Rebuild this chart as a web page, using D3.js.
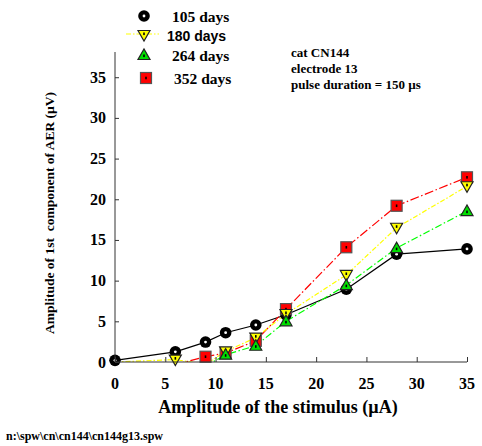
<!DOCTYPE html>
<html>
<head>
<meta charset="utf-8">
<script src="https://cdn.jsdelivr.net/npm/d3@7"></script>
<style>
  html, body { margin: 0; padding: 0; background: #fff; }
  svg { display: block; }
  text { font-family: "Liberation Serif", "Times New Roman", serif; font-weight: bold; fill: #000; }
</style>
</head>
<body>
<script>
// Stimulus amplitudes (µA) and AER first-component amplitudes (µV) per survey day
const xTicks = [0, 5, 10, 15, 20, 25, 30, 35];
const yTicks = [0, 5, 10, 15, 20, 25, 30, 35];

const stim105 = [0, 6, 9, 11, 14, 17, 23, 28, 35];
const amp105  = [0.2, 1.25, 2.45, 3.6, 4.55, 5.8, 8.95, 13.25, 13.9];

const stim180 = [0, 6, 9, 11, 14, 17, 23, 28, 35];
const amp180  = [0, 0.3, -0.3, 1.3, 3.0, 5.9, 10.7, 16.5, 21.6];

const stim264 = [9, 11, 14, 17, 23, 28, 35];
const amp264  = [-0.5, 0.9, 2.0, 5.0, 9.45, 14.0, 18.55];

const stim352 = [6, 9, 11, 14, 17, 23, 28, 35];
const amp352  = [-0.3, 0.65, 1.1, 2.6, 6.5, 14.1, 19.2, 22.7];

const seriesNames = ["105 days", "180 days", "264 days", "352 days"];

const W = 482, H = 446;
const svg = d3.select("body").append("svg").attr("width", W).attr("height", H);

const x = d3.scaleLinear().domain([0, 35]).range([115, 467]);
const y = d3.scaleLinear().domain([0, 38.1]).range([362, 52]);

const series = [
  { name: seriesNames[0], xs: stim105, ys: amp105, color: "#000000", dash: null, marker: "circle", fill: "#000" },
  { name: seriesNames[2], xs: stim264, ys: amp264, color: "#00ff00", dash: "7,2.5,1.5,2.5", marker: "up", fill: "#00e000" },
  { name: seriesNames[3], xs: stim352, ys: amp352, color: "#ff0000", dash: "9,2.5,1.5,2.5", marker: "square", fill: "#ff0000" },
  { name: seriesNames[1], xs: stim180, ys: amp180, color: "#ffff00", dash: "5,2,1.5,2", marker: "down", fill: "#ffff00" }
];
// drawing order: black, red, yellow, green
const drawOrder = [series[0], series[2], series[3], series[1]];

svg.append("defs").append("clipPath").attr("id", "plot")
  .append("rect").attr("x", 115).attr("y", 30).attr("width", 360).attr("height", 332);

function drawMarker(g, kind, cx, cy, fill) {
  if (kind === "circle") {
    g.append("circle").attr("cx", cx).attr("cy", cy).attr("r", 5.8).attr("fill", "#000");
    g.append("circle").attr("cx", cx).attr("cy", cy).attr("r", 1.4).attr("fill", "#fff");
  } else if (kind === "down") {
    const s = 6;
    g.append("path").attr("d", `M${cx - s},${cy - 4.5}L${cx + s},${cy - 4.5}L${cx},${cy + 6}Z`)
      .attr("fill", fill).attr("stroke", "#222").attr("stroke-width", 1.2);
    g.append("rect").attr("x", cx - 0.8).attr("y", cy - 2.5).attr("width", 1.6).attr("height", 2.6).attr("fill", "#000");
  } else if (kind === "up") {
    const s = 6;
    g.append("path").attr("d", `M${cx - s},${cy + 4.5}L${cx + s},${cy + 4.5}L${cx},${cy - 6}Z`)
      .attr("fill", fill).attr("stroke", "#222").attr("stroke-width", 1.2);
    g.append("rect").attr("x", cx - 0.8).attr("y", cy - 0.5).attr("width", 1.6).attr("height", 2.6).attr("fill", "#000");
  } else {
    g.append("rect").attr("x", cx - 5.5).attr("y", cy - 5.5).attr("width", 11).attr("height", 11)
      .attr("fill", fill).attr("stroke", "#555").attr("stroke-width", 1.2);
    g.append("rect").attr("x", cx - 0.8).attr("y", cy - 1.3).attr("width", 1.6).attr("height", 2.6).attr("fill", "#000");
  }
}

const line = d3.line().x(d => x(d[0])).y(d => y(d[1]));

// lines first
drawOrder.forEach(s => {
  const pts = s.xs.map((v, i) => [v, s.ys[i]]);
  svg.append("path").attr("d", line(pts))
    .attr("fill", "none").attr("stroke", s.color).attr("stroke-width", 1.2)
    .attr("stroke-dasharray", s.dash).attr("clip-path", "url(#plot)");
});

// markers for points on or above the baseline
drawOrder.forEach(s => {
  const g = svg.append("g");
  s.xs.forEach((v, i) => {
    if (s.ys[i] < 0 || (s.marker !== "circle" && v === 0)) return;
    drawMarker(g, s.marker, x(v), y(s.ys[i]), s.fill);
  });
});

// axes with inward ticks
const axX = d3.axisTop(x).tickValues(xTicks).tickSize(5).tickFormat("");
const gx = svg.append("g").attr("transform", "translate(0,362)").call(axX);
gx.select(".domain").attr("d", `M115,0H467`).attr("stroke", "#333");
gx.selectAll(".tick line").attr("stroke", "#333");

const axY = d3.axisRight(y).tickValues(yTicks).tickSize(4).tickFormat("");
const gy = svg.append("g").attr("transform", "translate(115,0)").call(axY);
gy.select(".domain").attr("d", `M0,52V362`).attr("stroke", "#333");
gy.selectAll(".tick line").attr("stroke", "#333");

svg.append("g").selectAll("text").data(xTicks).join("text")
  .attr("x", d => x(d)).attr("y", 389).attr("text-anchor", "middle")
  .attr("font-size", 16).text(d => d);

svg.append("g").selectAll("text").data(yTicks).join("text")
  .attr("x", 106).attr("y", d => y(d) + 5.5).attr("text-anchor", "end")
  .attr("font-size", 16).text(d => d);

// axis titles
svg.append("text").attr("x", 278).attr("y", 413).attr("text-anchor", "middle")
  .attr("font-size", 18).text("Amplitude of the stimulus (µA)");

svg.append("text").attr("transform", "translate(54,213) rotate(-90)")
  .attr("text-anchor", "middle").attr("font-size", 13.5)
  .style("white-space", "pre")
  .text("Amplitude of 1st  component of AER (µV)");

svg.append("text").attr("x", 6).attr("y", 440).attr("font-size", 12)
  .text("n:\\spw\\cn\\cn144\\cn144g13.spw");

// annotation
const notes = ["cat CN144", "electrode 13", "pulse duration = 150 µs"];
svg.append("g").selectAll("text").data(notes).join("text")
  .attr("x", 291).attr("y", (d, i) => 57 + i * 16).attr("font-size", 13).text(d => d);

// legend
const leg = svg.append("g");
const legRows = [
  { s: series[0], cy: 16, tx: 172, sans: false },
  { s: series[3], cy: 35, tx: 167, sans: true },
  { s: series[1], cy: 55, tx: 172, sans: false },
  { s: series[2], cy: 78, tx: 174, sans: false }
];
legRows.forEach(r => {
  if (r.sans) {
    leg.append("line").attr("x1", 126).attr("x2", 159).attr("y1", r.cy - 1).attr("y2", r.cy - 1)
      .attr("stroke", r.s.color).attr("stroke-width", 1.2).attr("stroke-dasharray", r.s.dash);
  }
  drawMarker(leg, r.s.marker, r.s.marker === "square" ? 146 : 144, r.cy, r.s.fill);
  const t = leg.append("text").attr("x", r.tx).attr("y", r.cy + 5.5).attr("font-size", r.sans ? 14 : 15.5).text(r.s.name);
  if (r.sans) t.style("font-family", "'Liberation Sans', Arial, sans-serif");
});
</script>
</body>
</html>
